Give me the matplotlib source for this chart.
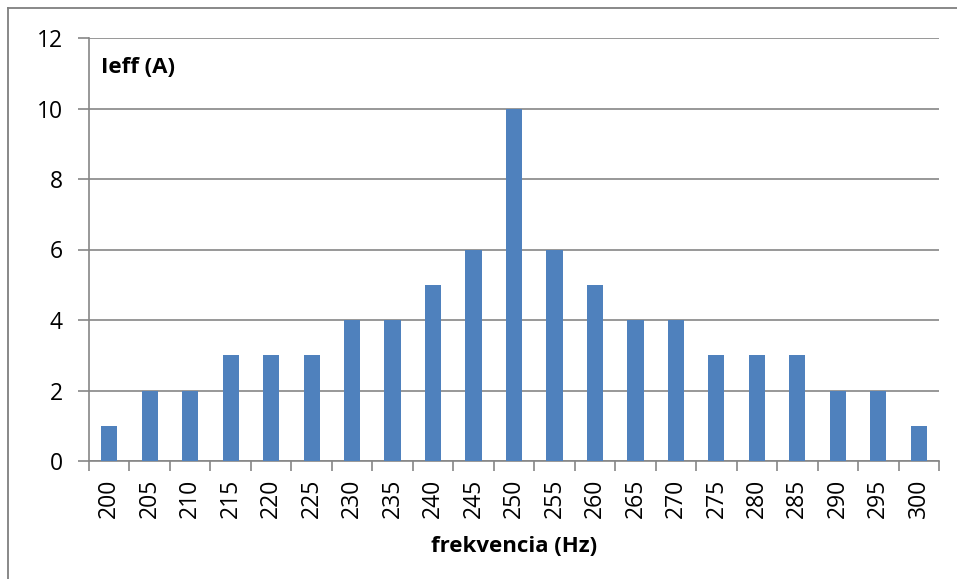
import matplotlib
matplotlib.use("Agg")
import matplotlib.pyplot as plt
from matplotlib.lines import Line2D
import numpy as np

frequencies = ["200", "205", "210", "215", "220", "225", "230", "235", "240", "245", "250",
               "255", "260", "265", "270", "275", "280", "285", "290", "295", "300"]
currents = [1, 2, 2, 3, 3, 3, 4, 4, 5, 6, 10, 6, 5, 4, 4, 3, 3, 3, 2, 2, 1]
y_ticks = [0, 2, 4, 6, 8, 10, 12]

plt.rcParams['font.family'] = ['Open Sans', 'DejaVu Sans']

W, H = 957, 579
fig = plt.figure(figsize=(W / 100, H / 100), dpi=100)
ax = fig.add_axes([89 / W, 1 - 461 / H, (939 - 89) / W, (461 - 38) / H])

x = np.arange(len(frequencies))
ax.bar(x, currents, width=0.4, color="#4F81BD", zorder=3)

grid_c = "#868686"
ax.set_xlim(-0.5, len(frequencies) - 0.5)
ax.set_ylim(0, 12)
ax.set_yticks(y_ticks)
ax.set_yticklabels([str(v) for v in y_ticks], fontsize=16.5)
ax.yaxis.grid(True, color=grid_c, linewidth=1.2, zorder=0)
ax.tick_params(axis="y", direction="out", length=8, width=1.2, color=grid_c, pad=11)

ax.set_xticks(x)
ax.set_xticklabels(frequencies, rotation=90, fontsize=16.5)
ax.tick_params(axis="x", which="major", length=0, pad=13)
ax.set_xticks(np.arange(-0.5, len(frequencies), 1), minor=True)
ax.tick_params(axis="x", which="minor", direction="out", length=7, width=1.2, color=grid_c)

for s in ["top", "right"]:
    ax.spines[s].set_visible(False)
for s in ["left", "bottom"]:
    ax.spines[s].set_color(grid_c)
    ax.spines[s].set_linewidth(1.2)

ax.text(0.014, 0.931, "Ieff (A)", transform=ax.transAxes, fontsize=16,
        fontweight="bold", ha="left", va="center")
fig.text(514 / W, 1 - 547 / H, "frekvencia (Hz)", fontsize=16, fontweight="bold",
         ha="center", va="center")

# outer chart frame (partially visible)
fig.add_artist(Line2D([8 / W, 8 / W], [0, 1 - 8 / H], transform=fig.transFigure,
                      color="#7f7f7f", linewidth=1.3))
fig.add_artist(Line2D([8 / W, 1], [1 - 8 / H, 1 - 8 / H], transform=fig.transFigure,
                      color="#7f7f7f", linewidth=1.3))

fig.savefig("out.png", dpi=100)
